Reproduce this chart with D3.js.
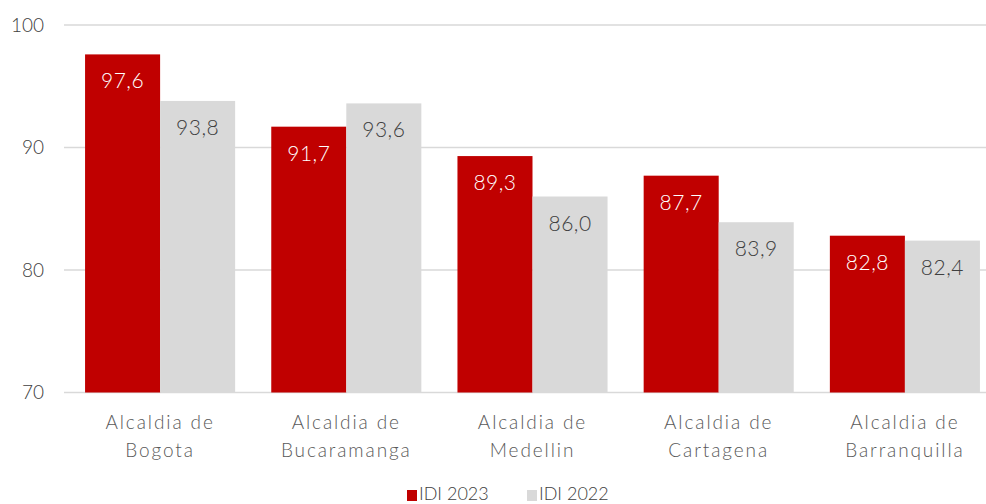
<!DOCTYPE html>
<html>
<head>
<meta charset="utf-8">
<script src="https://cdn.jsdelivr.net/npm/d3@7"></script>
<style>
  body { margin: 0; background: #fff; }
  svg text { font-family: "Lato", "Noto Sans", sans-serif; font-weight: 300; }
</style>
</head>
<body>
<svg id="chart" width="986" height="504"></svg>
<script>
var categories = [
  ["Alcaldia de", "Bogota"],
  ["Alcaldia de", "Bucaramanga"],
  ["Alcaldia de", "Medellin"],
  ["Alcaldia de", "Cartagena"],
  ["Alcaldia de", "Barranquilla"]
];
var idi2023 = [97.6, 91.7, 89.3, 87.7, 82.8];
var idi2022 = [93.8, 93.6, 86.0, 83.9, 82.4];
var seriesNames = ["IDI 2023", "IDI 2022"];
var yTicks = [70, 80, 90, 100];

var colors = ["#C00000", "#D9D9D9"];
var labelColors = ["#ffffff", "#404040"];

var svg = d3.select("#chart");

var keys = categories.map(function (c) { return c.join(" "); });

var x0 = d3.scaleBand()
  .domain(keys)
  .range([67, 998])
  .paddingInner(0.194)
  .paddingOuter(0.097);

var x1 = d3.scaleBand()
  .domain(seriesNames)
  .range([0, x0.bandwidth()]);

var y = d3.scaleLinear()
  .domain([70, 100])
  .range([392.5, 25]);

// gridlines
svg.append("g").selectAll("line")
  .data(yTicks)
  .enter().append("line")
  .attr("x1", 64).attr("x2", 986)
  .attr("y1", function (d) { return y(d); })
  .attr("y2", function (d) { return y(d); })
  .attr("stroke", "#D9D9D9")
  .attr("stroke-width", 1.3);

// y axis labels
svg.append("g").selectAll("text")
  .data(yTicks)
  .enter().append("text")
  .attr("x", 44)
  .attr("y", function (d) { return y(d) + 6.5; })
  .attr("text-anchor", "end")
  .attr("fill", "#404040")
  .style("font-size", "19px")
  .text(function (d) { return d; });

var data = keys.map(function (k, i) {
  return { key: k, values: [idi2023[i], idi2022[i]] };
});

var groups = svg.append("g").selectAll("g")
  .data(data)
  .enter().append("g")
  .attr("transform", function (d) { return "translate(" + x0(d.key) + ",0)"; });

groups.selectAll("rect")
  .data(function (d) { return d.values.map(function (v, j) { return { s: j, v: v }; }); })
  .enter().append("rect")
  .attr("x", function (d) { return x1(seriesNames[d.s]); })
  .attr("width", x1.bandwidth())
  .attr("y", function (d) { return y(d.v); })
  .attr("height", function (d) { return y(70) - y(d.v); })
  .attr("fill", function (d) { return colors[d.s]; });

groups.selectAll("text.val")
  .data(function (d) { return d.values.map(function (v, j) { return { s: j, v: v }; }); })
  .enter().append("text")
  .attr("class", "val")
  .attr("x", function (d) { return x1(seriesNames[d.s]) + x1.bandwidth() / 2; })
  .attr("y", function (d) { return y(d.v) + 34; })
  .attr("text-anchor", "middle")
  .attr("fill", function (d) { return labelColors[d.s]; })
  .style("font-size", "21px")
  .style("letter-spacing", "0.5px")
  .text(function (d) { return d.v.toFixed(1).replace(".", ","); });

// category labels
var catLabels = svg.append("g").selectAll("text")
  .data(categories)
  .enter().append("text")
  .attr("x", function (d, i) { return x0(keys[i]) + x0.bandwidth() / 2; })
  .attr("y", 429)
  .attr("text-anchor", "middle")
  .attr("fill", "#595959")
  .style("font-size", "19px")
  .style("letter-spacing", "1.9px");

catLabels.selectAll("tspan")
  .data(function (d) { return d; })
  .enter().append("tspan")
  .attr("x", function () { return d3.select(this.parentNode).attr("x"); })
  .attr("dy", function (d, i) { return i === 0 ? 0 : 28; })
  .text(function (d) { return d; });

// legend
var legend = svg.append("g");
var legendX = [407, 527];
seriesNames.forEach(function (name, i) {
  legend.append("rect")
    .attr("x", legendX[i]).attr("y", 490)
    .attr("width", 10).attr("height", 11)
    .attr("fill", colors[i]);
  legend.append("text")
    .attr("x", legendX[i] + 12).attr("y", 500)
    .attr("fill", "#404040")
    .style("font-size", "18px")
    .text(name);
});
</script>
</body>
</html>
